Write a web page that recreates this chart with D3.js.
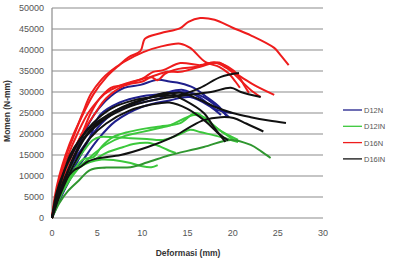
<!DOCTYPE html>
<html>
<head>
<meta charset="utf-8">
<script src="https://cdn.jsdelivr.net/npm/d3@7"></script>
<style>
  body { margin: 0; background: #fff; }
  text { font-family: "Liberation Sans", Arial, sans-serif; }
</style>
</head>
<body>
<svg id="chart" width="394" height="260"></svg>
<script>
// tick values
var xTicks = [0, 5, 10, 15, 20, 25, 30];
var yTicks = [0, 5000, 10000, 15000, 20000, 25000, 30000, 35000, 40000, 45000, 50000];

// D12N specimens (deformasi mm, momen N-mm)
var d12n_1 = [[0,0],[0.6,5000],[1.5,10000],[2.5,15000],[3.5,20000],[4.8,25000],[6.5,29000],[8,31000],[9.8,31700],[11.7,32900],[13,32500],[14.2,32100],[15.7,31000],[17,29000],[18.5,26500],[19.4,24000]];
var d12n_2 = [[0,0],[0.8,5000],[2,10000],[3.2,15000],[4.5,20000],[6.5,24500],[9,27000],[12,28500],[13.1,29800],[15.3,29800],[16.8,28800],[18.3,26400],[19.6,24000]];
var d12n_3 = [[0,0],[1,5000],[2.2,10000],[3.5,14000],[5,18500],[7,23000],[10,26500],[13,28000],[15.3,28800],[17.6,26400],[18.7,24500]];
var d12n_4 = [[0,0],[0.9,5000],[2,9500],[2.3,13100],[4.2,19300],[5.3,24500],[7.5,27500],[10,29000],[12,29500],[14.5,30500],[16.5,28500],[18,26000],[19.9,25000]];

// D12IN specimens
var d12in_1 = [[0,0],[0.5,4000],[1.2,7500],[2,10000],[3,12000],[4.2,13300],[5.5,13900],[6.8,13800],[8.7,13100],[10,12300],[11,12100],[11.7,12600]];
var d12in_2 = [[0,0],[0.6,4000],[1.5,8000],[2.5,11000],[3.5,13000],[4.6,13800],[6,15500],[7.9,16900],[9,17600],[10.6,17900],[12,17000],[13,16000],[13.7,15500]];
var d12in_3 = [[0,0],[0.7,5000],[1.6,9000],[2.6,12000],[3.5,14000],[4.6,14500],[5.5,17000],[6.8,19300],[8.5,20500],[10.6,21400],[12,21800],[14.2,22600],[15.9,25000],[17,23500],[18.5,21000],[20.1,18600]];
var d12in_4 = [[0,0],[0.6,5000],[1.5,9500],[2.5,13000],[3.5,16000],[4.5,18500],[5.3,19300],[7,19200],[8.7,19000],[10.5,18800],[12.3,18600],[14,19800],[15.3,21000],[16.5,20400],[18.7,19300],[20.6,18100]];
var d12in_5 = [[0,0],[0.8,4500],[1.8,8500],[3,12000],[4.5,15000],[6,17500],[8,19500],[10,20500],[12,21500],[13.1,22100],[15.7,24500],[16.8,24000],[18.5,21000],[20.6,18600]];
var d12in_6 = [[0,0],[0.8,3500],[1.8,6500],[3,9000],[4.2,11400],[6,12000],[8.7,12100],[10.5,13200],[12.3,14500],[13.1,15000],[16.8,16900],[19.8,18600],[22,17400],[23.2,15800],[24.2,14300]];

// D16N specimens
var d16n_1 = [[0,0],[0.3,5000],[0.8,10000],[1.5,15000],[2.4,20000],[3.5,25000],[4.6,29500],[6,33500],[7.5,36500],[8.5,38300],[9.8,39800],[10.3,42700],[12,44000],[14.2,45200],[15.1,46700],[16.4,47600],[18,47200],[20,45300],[22,43500],[24.6,40500],[25.3,38800],[26.2,36400]];
var d16n_2 = [[0,0],[0.4,5000],[0.9,10000],[1.6,15000],[2.5,20000],[3.4,25000],[4.3,29500],[5.5,33000],[6.5,35000],[8,37200],[10.1,39500],[12,40800],[14.2,41500],[15.3,40500],[17,37100],[18.5,36000],[19.5,34500],[20.3,32500],[20.8,31000]];
var d16n_3 = [[0,0],[0.4,5000],[1,10000],[1.8,15000],[2.8,20000],[4,25000],[5.3,28500],[6.5,31000],[7.9,31700],[10.1,33300],[11.2,34800],[12.3,35200],[14.2,36900],[16.4,36400],[18,37000],[19.5,35500],[21,33500],[22.5,31500],[24.6,29300]];
var d16n_4 = [[0,0],[0.6,5000],[1.3,10000],[2.2,15000],[3.3,20000],[4.3,25000],[5.3,28500],[6.5,30500],[8.3,32100],[10.9,33600],[12.8,34800],[14.2,34800],[16.4,36000],[18.5,37000],[19.8,35000],[21,32500],[22,30500],[23.1,28800]];
var d16n_5 = [[0,0],[0.5,5000],[1.2,10000],[2.2,15000],[3.3,20000],[4.8,25000],[6,28500],[8,31500],[10,32500],[11,33500],[11.7,32800],[12.5,34300],[14,35500],[16,36000],[17.9,37000],[19.5,36000],[20.6,34000],[21.3,31500],[21.8,29800]];

// D16IN specimens
var d16in_1 = [[0,0],[0.5,5000],[1.2,10000],[2,15000],[3,18500],[4.5,22000],[6.5,25000],[9,27500],[11.5,29000],[14.2,29800],[16,28500],[18,26500],[20,25000],[22,24000],[24,23200],[25.9,22600]];
var d16in_2 = [[0,0],[0.6,5000],[1.5,9000],[2.5,11500],[3.1,12100],[4,13500],[5.3,14300],[7.6,15000],[10.6,16900],[13.4,19300],[15.3,21700],[16.8,23300],[18.7,24000],[20.1,23800],[21.5,22500],[23.4,20600]];
var d16in_3 = [[0,0],[0.5,6000],[1.3,11000],[2.2,15000],[3.2,19000],[4.5,22500],[6.5,26000],[9,28000],[12,29000],[14.2,29300],[16.4,31000],[18.7,33600],[20.7,34500]];
var d16in_4 = [[0,0],[0.7,5000],[1.6,10000],[2.6,15000],[3.8,19500],[5.5,23000],[8,26000],[11,28000],[14,29000],[17.6,30000],[19.8,31000],[20.9,30000],[23.1,28800]];
var d16in_5 = [[0,0],[0.6,5000],[1.5,10000],[2.5,15000],[3.5,19000],[5,22500],[7,25500],[10,28000],[12.8,29800],[14.6,28100],[16.8,25000],[17.9,21700],[19.2,18100]];
var d16in_6 = [[0,0],[0.8,5000],[1.8,10000],[3,15000],[4.2,19000],[6,22500],[8.5,25500],[11,27000],[13,27500],[15,26000],[17,23000],[18.5,20000],[19.5,18500]];

var groups = [
  { name: "D12N",  legend: "#1f1f8c", lines: [d12n_1, d12n_2, d12n_3, d12n_4],
    colors: ["#1f1f8c", "#1f1f8c", "#1f1f8c", "#1f1f8c"] },
  { name: "D12IN", legend: "#3cc83c", lines: [d12in_1, d12in_2, d12in_3, d12in_4, d12in_5, d12in_6],
    colors: ["#3cc83c", "#3cc83c", "#3cc83c", "#3cc83c", "#3cc83c", "#2f962f"] },
  { name: "D16N",  legend: "#ee1c1c", lines: [d16n_1, d16n_2, d16n_3, d16n_4, d16n_5],
    colors: ["#ee1c1c", "#ee1c1c", "#ee1c1c", "#ee1c1c", "#ee1c1c"] },
  { name: "D16IN", legend: "#111111", lines: [d16in_1, d16in_2, d16in_3, d16in_4, d16in_5, d16in_6],
    colors: ["#111111", "#111111", "#111111", "#111111", "#111111", "#111111"] }
];

var svg = d3.select("#chart");
var x = d3.scaleLinear().domain([0, 30]).range([52, 323]);
var y = d3.scaleLinear().domain([0, 50000]).range([218, 8]);

// gridlines
svg.append("g").selectAll("line").data(yTicks).enter().append("line")
  .attr("x1", x(0)).attr("x2", x(30))
  .attr("y1", function(d) { return y(d); }).attr("y2", function(d) { return y(d); })
  .attr("stroke", "#8c8c8c").attr("stroke-width", 1.2);

svg.append("line").attr("x1", x(0)).attr("x2", x(0)).attr("y1", y(0)).attr("y2", y(50000))
  .attr("stroke", "#8c8c8c").attr("stroke-width", 1.2);

// tick labels
svg.append("g").selectAll("text").data(yTicks).enter().append("text")
  .attr("x", 44).attr("y", function(d) { return y(d) + 3.2; })
  .attr("text-anchor", "end").attr("font-size", 9).attr("fill", "#555")
  .text(function(d) { return d; });
svg.append("g").selectAll("text").data(xTicks).enter().append("text")
  .attr("x", function(d) { return x(d); }).attr("y", 236)
  .attr("text-anchor", "middle").attr("font-size", 9).attr("fill", "#555")
  .text(function(d) { return d; });

svg.append("text").attr("x", 188).attr("y", 256).attr("text-anchor", "middle")
  .attr("font-size", 8.5).attr("font-weight", "bold").attr("fill", "#333")
  .text("Deformasi (mm)");
svg.append("text").attr("transform", "translate(10,111) rotate(-90)").attr("text-anchor", "middle")
  .attr("font-size", 8.5).attr("font-weight", "bold").attr("fill", "#333")
  .text("Momen (N-mm)");

var line = d3.line()
  .x(function(d) { return x(d[0]); })
  .y(function(d) { return y(d[1]); })
  .curve(d3.curveCatmullRom.alpha(0.5));

groups.forEach(function(g) {
  svg.append("g").selectAll("path").data(g.lines).enter().append("path")
    .attr("d", line)
    .attr("fill", "none")
    .attr("stroke", function(d, i) { return g.colors[i]; })
    .attr("stroke-width", 2)
    .attr("stroke-linejoin", "round");
});

// legend
var leg = svg.append("g").selectAll("g").data(groups).enter().append("g")
  .attr("transform", function(d, i) { return "translate(343," + (110 + i * 16.3) + ")"; });
leg.append("line").attr("x1", 0).attr("x2", 19).attr("stroke", function(d) { return d.legend; }).attr("stroke-width", 1.3);
leg.append("text").attr("x", 21).attr("y", 3).attr("font-size", 7.5).attr("fill", "#555")
  .text(function(d) { return d.name; });
</script>
</body>
</html>
